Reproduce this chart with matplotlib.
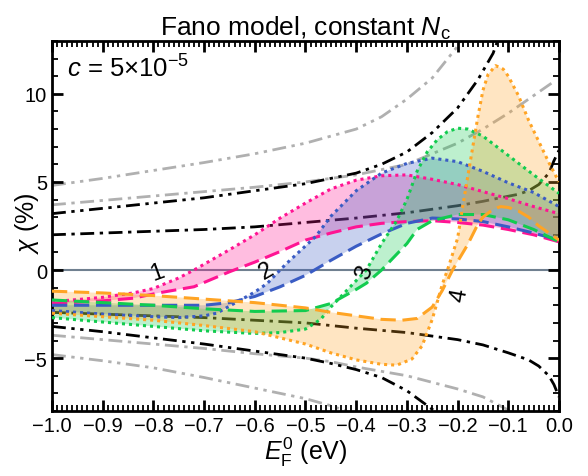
import numpy as np
import matplotlib
matplotlib.use("Agg")
import matplotlib.pyplot as plt
from matplotlib.ticker import MultipleLocator

plt.rcParams['font.family'] = ['Liberation Sans', 'DejaVu Sans']
plt.rcParams['mathtext.fontset'] = 'custom'
plt.rcParams['mathtext.rm'] = 'Liberation Sans'
plt.rcParams['mathtext.it'] = 'Liberation Sans:italic'

# ---- reference curves (black / gray) ----
bdd_up_x = [-1.0, -0.9, -0.8, -0.7, -0.6, -0.5, -0.4, -0.3, -0.2, -0.15, -0.116, -0.08, -0.06, -0.04, -0.02, -0.01, 0.0]
bdd_up_y = [2.0, 2.1, 2.2, 2.3, 2.45, 2.7, 2.95, 3.25, 3.65, 3.9, 4.1, 4.3, 4.5, 4.85, 5.5, 6.2, 6.8]
bdd_lo_x = [-1.0, -0.9, -0.8, -0.7, -0.6, -0.5, -0.4, -0.3, -0.25, -0.2, -0.15, -0.1, -0.06, -0.04, -0.02, -0.01, 0.0]
bdd_lo_y = [-2.4, -2.5, -2.6, -2.7, -2.85, -3.0, -3.3, -3.55, -3.75, -3.95, -4.25, -4.7, -5.1, -5.45, -6.0, -6.5, -7.2]

bd2_up_x = [-1.0, -0.9, -0.8, -0.7, -0.6, -0.5, -0.45, -0.4, -0.35, -0.3, -0.25, -0.2, -0.16, -0.13, -0.115]
bd2_up_y = [3.2, 3.5, 3.8, 4.1, 4.5, 4.9, 5.2, 5.5, 6.0, 6.7, 7.8, 9.2, 10.8, 12.3, 13.5]
bd2_lo_x = [-1.0, -0.9, -0.8, -0.7, -0.6, -0.5, -0.45, -0.4, -0.35, -0.3, -0.25, -0.23]
bd2_lo_y = [-3.2, -3.5, -3.85, -4.2, -4.6, -5.0, -5.3, -5.65, -6.1, -6.85, -7.9, -8.5]

gd_up_x = [-1.0, -0.9, -0.8, -0.7, -0.6, -0.5, -0.4, -0.3, -0.2, -0.15, -0.1, -0.05, -0.015]
gd_up_y = [3.7, 3.95, 4.2, 4.45, 4.7, 5.0, 5.4, 6.0, 7.2, 8.0, 8.9, 9.9, 10.6]
gd_lo_x = [-1.0, -0.9, -0.8, -0.7, -0.6, -0.5, -0.45, -0.4, -0.3, -0.2, -0.15, -0.1, -0.09]
gd_lo_y = [-3.7, -3.95, -4.2, -4.45, -4.75, -5.0, -5.2, -5.5, -6.0, -6.75, -7.2, -7.95, -8.3]

gd2_up_x = [-1.0, -0.9, -0.8, -0.7, -0.6, -0.5, -0.4, -0.35, -0.3, -0.25, -0.2, -0.18]
gd2_up_y = [4.8, 5.2, 5.65, 6.1, 6.6, 7.2, 8.0, 8.7, 9.7, 10.9, 12.7, 13.6]
gd2_lo_x = [-1.0, -0.9, -0.8, -0.7, -0.6, -0.5, -0.45, -0.42, -0.4]
gd2_lo_y = [-4.8, -5.15, -5.55, -6.1, -6.7, -7.3, -7.7, -8.0, -8.3]

# ---- bands 1..4 : dotted and dashed boundaries ----
b1_dot_x = [-1.0, -0.9, -0.84, -0.8, -0.75, -0.72, -0.65, -0.6, -0.55, -0.5, -0.45, -0.4, -0.35, -0.3, -0.25, -0.2, -0.15, -0.1, -0.05, 0.0]
b1_dot_y = [-1.8, -1.55, -1.3, -1.05, -0.45, 0.0, 1.15, 2.0, 2.95, 3.8, 4.6, 5.1, 5.35, 5.4, 5.15, 4.85, 4.45, 4.05, 3.6, 3.2]
b1_dash_x = [-1.0, -0.9, -0.84, -0.79, -0.72, -0.65, -0.6, -0.55, -0.5, -0.45, -0.4, -0.35, -0.3, -0.25, -0.2, -0.15, -0.1, -0.05, 0.0]
b1_dash_y = [-1.9, -1.75, -1.6, -1.3, -0.95, -0.1, 0.45, 1.05, 1.7, 2.1, 2.45, 2.65, 2.75, 2.8, 2.7, 2.55, 2.3, 2.0, 1.6]

b2_dot_x = [-1.0, -0.9, -0.8, -0.75, -0.7, -0.675, -0.65, -0.6, -0.575, -0.54, -0.51, -0.48, -0.45, -0.4, -0.35, -0.3, -0.25, -0.2, -0.15, -0.1, -0.05, 0.0]
b2_dot_y = [-2.3, -2.5, -2.65, -2.7, -2.6, -2.45, -2.05, -1.25, -0.75, 0.3, 1.1, 1.9, 3.05, 4.5, 5.5, 6.05, 6.35, 6.15, 5.6, 4.95, 4.4, 3.6]
b2_dash_x = [-1.0, -0.9, -0.8, -0.7, -0.65, -0.6, -0.55, -0.5, -0.45, -0.4, -0.35, -0.3, -0.25, -0.2, -0.15, -0.1, -0.05, 0.0]
b2_dash_y = [-2.0, -2.0, -2.0, -2.0, -1.85, -1.5, -0.95, -0.3, 0.55, 1.35, 2.05, 2.65, 2.95, 2.9, 2.75, 2.45, 2.1, 1.7]

b3_dot_x = [-1.0, -0.9, -0.8, -0.7, -0.6, -0.55, -0.5, -0.47, -0.45, -0.4, -0.38, -0.35, -0.32, -0.3, -0.28, -0.26, -0.24, -0.22, -0.2, -0.18, -0.15, -0.1, -0.05, 0.0]
b3_dot_y = [-2.7, -2.95, -3.2, -3.45, -3.6, -3.55, -3.35, -2.8, -2.1, -0.6, 0.0, 1.5, 2.8, 4.0, 5.6, 6.7, 7.4, 7.85, 8.05, 8.0, 7.6, 6.5, 5.4, 4.35]
b3_dash_x = [-1.0, -0.9, -0.8, -0.7, -0.6, -0.5, -0.45, -0.4, -0.38, -0.35, -0.3, -0.28, -0.25, -0.2, -0.15, -0.1, -0.05, 0.0]
b3_dash_y = [-1.7, -1.85, -2.0, -2.2, -2.35, -2.3, -1.9, -1.1, -0.75, 0.0, 1.5, 2.3, 2.8, 3.15, 3.15, 2.85, 2.3, 1.6]

b4_dot_x = [-1.0, -0.9, -0.8, -0.7, -0.6, -0.5, -0.45, -0.4, -0.35, -0.32, -0.29, -0.27, -0.25, -0.23, -0.22, -0.2, -0.19, -0.18, -0.17, -0.16, -0.15, -0.14, -0.125, -0.11, -0.1, -0.08, -0.06, -0.04, -0.02, 0.0]
b4_dot_y = [-2.45, -2.65, -2.85, -3.15, -3.5, -4.2, -4.7, -5.1, -5.35, -5.4, -5.05, -4.3, -2.8, -0.8, 0.0, 1.8, 3.6, 5.3, 7.0, 8.7, 10.2, 11.1, 11.6, 11.4, 11.0, 9.9, 8.5, 7.3, 6.1, 5.0]
b4_dash_x = [-1.0, -0.9, -0.8, -0.7, -0.6, -0.5, -0.45, -0.4, -0.35, -0.31, -0.28, -0.25, -0.23, -0.21, -0.18, -0.16, -0.15, -0.13, -0.115, -0.1, -0.08, -0.06, -0.04, -0.02, 0.0]
b4_dash_y = [-1.2, -1.3, -1.45, -1.65, -1.85, -2.15, -2.4, -2.6, -2.8, -2.85, -2.75, -2.1, -1.15, 0.0, 1.45, 2.6, 3.0, 3.45, 3.6, 3.55, 3.35, 3.0, 2.5, 2.1, 1.7]

band_colors = ['#ff1493', '#3a5cc4', '#12cc4f', '#ffa424']
band_labels = ['1', '2', '3', '4']
label_pos = [(-0.793, -0.1), (-0.576, 0.0), (-0.383, -0.1), (-0.195, -1.4)]
label_rot = [20, 30, 70, 80]

fig = plt.figure(figsize=(5.88, 4.77), dpi=100)
ax = fig.add_axes([0.0884, 0.1363, 0.8623, 0.7757])

dd = (0, (5, 2, 1.2, 2))
ddd = (0, (5, 2, 1.2, 2, 1.2, 2))
gray = '#b0b0b0'
ax.plot(gd2_up_x, gd2_up_y, color=gray, lw=2, ls=ddd, zorder=1)
ax.plot(gd2_lo_x, gd2_lo_y, color=gray, lw=2, ls=ddd, zorder=1)
ax.plot(gd_up_x, gd_up_y, color=gray, lw=2, ls=dd, zorder=1)
ax.plot(gd_lo_x, gd_lo_y, color=gray, lw=2, ls=dd, zorder=1)
ax.plot(bd2_up_x, bd2_up_y, color='black', lw=2, ls=ddd, zorder=1)
ax.plot(bd2_lo_x, bd2_lo_y, color='black', lw=2, ls=ddd, zorder=1)
ax.plot(bdd_up_x, bdd_up_y, color='black', lw=2, ls=dd, zorder=1)
ax.plot(bdd_lo_x, bdd_lo_y, color='black', lw=2, ls=dd, zorder=1)

ax.axhline(0, color='#708090', lw=1.5, zorder=1.5)

bands = [(b1_dot_x, b1_dot_y, b1_dash_x, b1_dash_y),
         (b2_dot_x, b2_dot_y, b2_dash_x, b2_dash_y),
         (b3_dot_x, b3_dot_y, b3_dash_x, b3_dash_y),
         (b4_dot_x, b4_dot_y, b4_dash_x, b4_dash_y)]

for (xd, yd, xs, ys), c in zip(bands, band_colors):
    px = list(xd) + list(xs)[::-1]
    py = list(yd) + list(ys)[::-1]
    ax.fill(px, py, color=c, alpha=0.28, lw=0, zorder=2)
for (xd, yd, xs, ys), c in zip(bands, band_colors):
    ax.plot(xd, yd, color=c, lw=2.2, ls=(0, (1, 1.3)), zorder=3)
    ax.plot(xs, ys, color=c, lw=2.2, ls=(0, (5, 2.2)), zorder=3)

for t, (x, y), r in zip(band_labels, label_pos, label_rot):
    ax.text(x, y, t, fontsize=17, rotation=r, ha='center', va='center', zorder=4)

ax.text(0.03, 0.927, r'$c$ = 5×10$^{-5}$', transform=ax.transAxes,
        fontsize=18.5, ha='left', va='center')

ax.set_xlim(-1.0, 0.0)
ax.set_ylim(-8, 13)
ax.xaxis.set_major_locator(MultipleLocator(0.1))
ax.xaxis.set_minor_locator(MultipleLocator(0.01))
ax.yaxis.set_major_locator(MultipleLocator(5))
ax.yaxis.set_minor_locator(MultipleLocator(1))
ax.tick_params(which='both', direction='in', top=True, right=True, labelsize=14.5)
ax.tick_params(which='major', length=8, width=2)
ax.tick_params(which='minor', length=4, width=1.3)
for s in ax.spines.values():
    s.set_linewidth(2)

ax.set_title(r'Fano model, constant $N_\mathrm{c}$', fontsize=19, pad=4)
ax.set_xlabel(r'$E_\mathrm{F}^0$ (eV)', fontsize=18, labelpad=0)
ax.set_ylabel(r'$\chi$ (%)', fontsize=18, va='center')
ax.yaxis.set_label_coords(-0.05, 0.51)

fig.savefig('out.png', dpi=100)
